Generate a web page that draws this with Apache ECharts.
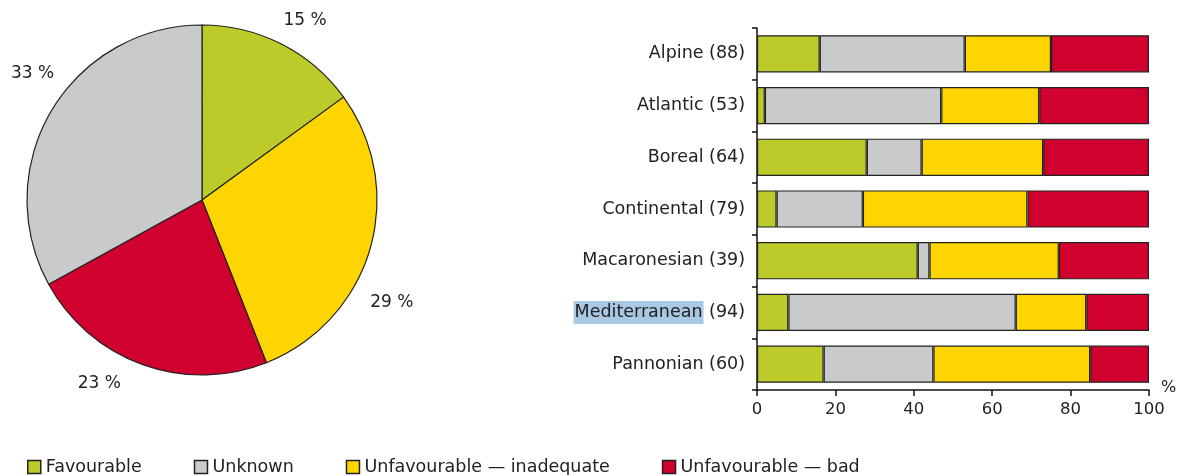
<!DOCTYPE html>
<html><head><meta charset="utf-8">
<script src="https://cdn.jsdelivr.net/npm/echarts@6/dist/echarts.min.js"></script>
<style>html,body{margin:0;padding:0;background:#fff;overflow:hidden}#c{width:1180px;height:475px}</style>
</head><body><div id="c"></div>
<script>
// ---- data ----
const statusNames = ['Favourable', 'Unknown', 'Unfavourable \u2014 inadequate', 'Unfavourable \u2014 bad'];
const pieNames = ['Favourable', 'Unfavourable \u2014 inadequate', 'Unfavourable \u2014 bad', 'Unknown'];
const pieValues = [15, 29, 23, 33]; // clockwise from top
const regions = ['Alpine (88)', 'Atlantic (53)', 'Boreal (64)', 'Continental (79)', 'Macaronesian (39)', 'Mediterranean (94)', 'Pannonian (60)'];
const favourable = [16, 2, 28, 5, 41, 8, 17];
const unknown = [37, 45, 14, 22, 3, 58, 28];
const inadequate = [22, 25, 31, 42, 33, 18, 40];
const bad = [25, 28, 27, 31, 23, 16, 15];

// ---- styles ----
const colors = {
  'Favourable': '#bccb2a',
  'Unknown': '#c8cacc',
  'Unfavourable \u2014 inadequate': '#ffd500',
  'Unfavourable \u2014 bad': '#d0002f'
};
// small nudges of the pie labels (style only)
const pieLabelOffsets = [[-12, -6], [-24, 48], [-10, 0], [25, -27]];
const font = 'DejaVu Sans, Verdana, sans-serif';
const barData = [favourable, unknown, inadequate, bad];

const chart = echarts.init(document.getElementById('c'));
const option = {
  animation: false,
  textStyle: { fontFamily: font },
  legend: {
    data: statusNames,
    left: 22, top: 453,
    itemWidth: 13, itemHeight: 13, itemGap: 52,
    icon: 'rect',
    textStyle: { fontFamily: font, fontSize: 17.5, color: '#222' },
    itemStyle: { borderColor: '#222', borderWidth: 1.5 }
  },
  grid: { left: 757, right: 31, top: 28, bottom: 85 },
  xAxis: {
    type: 'value', min: 0, max: 100, interval: 20,
    name: '%', nameLocation: 'end', nameGap: 12,
    nameTextStyle: { fontFamily: font, fontSize: 16, color: '#222', verticalAlign: 'bottom', padding: [0, 0, -6, 0] },
    axisLine: { show: true, lineStyle: { color: '#111', width: 1.5 } },
    axisTick: { show: true, length: 6, lineStyle: { color: '#111', width: 1.5 } },
    axisLabel: { fontFamily: font, fontSize: 16.5, color: '#222', margin: 11 },
    splitLine: { show: false }
  },
  yAxis: {
    type: 'category', data: regions, inverse: true,
    axisLine: { show: true, lineStyle: { color: '#111', width: 1.5 } },
    axisTick: { show: true, length: 5, lineStyle: { color: '#111', width: 1.5 } },
    axisLabel: {
      fontFamily: font, fontSize: 17.5, color: '#222', margin: 12,
      formatter: function (v) {
        if (v.indexOf('Mediterranean') === 0) {
          return '{hl|Mediterranean}' + v.slice('Mediterranean'.length);
        }
        return v;
      },
      rich: { hl: { backgroundColor: '#a9c8e6', fontFamily: font, fontSize: 17.5, color: '#222', padding: [3, 1, 2, 1] } }
    }
  },
  series: [
    {
      type: 'pie', name: 'pie', center: [202, 200], radius: 175,
      startAngle: 90, clockwise: true,
      data: pieValues.map((v, i) => ({
        name: pieNames[i], value: v,
        itemStyle: { color: colors[pieNames[i]] },
        label: { offset: pieLabelOffsets[i] }
      })),
      itemStyle: { borderColor: '#222', borderWidth: 1.2 },
      label: { show: true, position: 'outside', formatter: '{c} %', fontFamily: font, fontSize: 17, color: '#222', overflow: 'none', alignTo: 'none' },
      labelLine: { show: false, length: 20, length2: 0 },
      avoidLabelOverlap: false,
      emphasis: { disabled: true }
    }
  ].concat(statusNames.map((n, i) => ({
    type: 'bar', name: n, stack: 'total', barWidth: '72%',
    data: barData[i],
    itemStyle: { color: colors[n], borderColor: '#222', borderWidth: 1.2 },
    emphasis: { disabled: true }
  })))
};
chart.setOption(option);
</script>
</body></html>
